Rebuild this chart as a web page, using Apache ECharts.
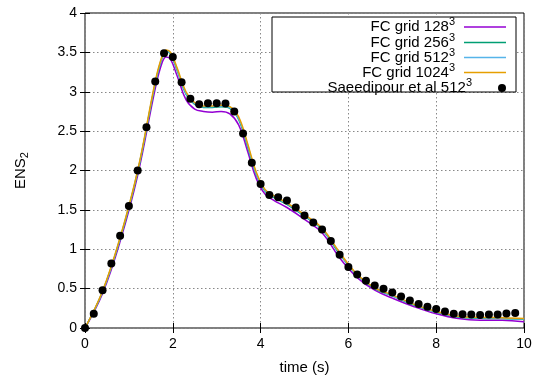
<!DOCTYPE html>
<html><head><meta charset="utf-8">
<script src="https://cdn.jsdelivr.net/npm/echarts@6/dist/echarts.min.js"></script>
<style>html,body{margin:0;padding:0;background:#fff}#c{width:539px;height:381px}</style>
</head><body><div id="c"></div>
<script>
// Reference data (Saeedipour et al 512^3)
const refTime = [0,0.2,0.4,0.6,0.8,1.0,1.2,1.4,1.6,1.8,2.0,2.2,2.4,2.6,2.8,3.0,3.2,3.4,3.6,3.8,4.0,4.2,4.4,4.6,4.8,5.0,5.2,5.4,5.6,5.8,6.0,6.2,6.4,6.6,6.8,7.0,7.2,7.4,7.6,7.8,8.0,8.2,8.4,8.6,8.8,9.0,9.2,9.4,9.6,9.8];
const refValues = [0,0.18,0.48,0.82,1.17,1.55,2.0,2.55,3.13,3.49,3.44,3.12,2.91,2.84,2.855,2.855,2.85,2.75,2.47,2.1,1.83,1.69,1.66,1.62,1.53,1.43,1.34,1.25,1.105,0.93,0.775,0.68,0.60,0.54,0.50,0.45,0.40,0.35,0.305,0.27,0.24,0.21,0.18,0.175,0.17,0.165,0.17,0.17,0.185,0.19];

// FC grid simulations
const fcTime = [0,0.4,0.8,1.2,1.6,1.75,1.85,1.95,2.1,2.3,2.5,2.7,2.9,3.1,3.3,3.5,3.7,3.9,4.1,4.3,4.6,5.0,5.4,5.8,6.2,6.6,7.0,7.5,8.0,8.5,9.0,9.5,10];
const fc128  = [0,0.44,1.10,1.94,3.04,3.36,3.44,3.41,3.20,2.90,2.78,2.75,2.74,2.75,2.72,2.58,2.25,1.90,1.70,1.62,1.53,1.38,1.21,0.89,0.64,0.48,0.38,0.27,0.18,0.12,0.10,0.10,0.08];
const fc256  = [0,0.46,1.13,1.98,3.10,3.42,3.51,3.48,3.27,2.97,2.84,2.80,2.80,2.81,2.79,2.65,2.31,1.95,1.74,1.66,1.57,1.42,1.25,0.94,0.67,0.50,0.41,0.29,0.20,0.14,0.125,0.12,0.11];
const fc512  = [0,0.46,1.14,1.99,3.11,3.43,3.51,3.49,3.28,2.98,2.85,2.81,2.81,2.82,2.80,2.66,2.33,1.96,1.75,1.67,1.58,1.43,1.26,0.95,0.67,0.51,0.41,0.30,0.205,0.145,0.13,0.125,0.115];
const fc1024 = [0,0.47,1.15,2.0,3.13,3.44,3.53,3.50,3.30,3.00,2.86,2.82,2.82,2.83,2.81,2.68,2.35,1.98,1.76,1.68,1.59,1.44,1.27,0.96,0.68,0.51,0.42,0.30,0.21,0.15,0.135,0.13,0.12];

const seriesNames = ['FC grid 128³','FC grid 256³','FC grid 512³','FC grid 1024³','Saeedipour et al 512³'];
const lineValues = [fc128, fc256, fc512, fc1024];
const colors = ['#9400d3','#009e73','#56b4e9','#e69f00','#000000'];

const FONT = 'Liberation Sans';
const chart = echarts.init(document.getElementById('c'), null, {renderer:'canvas'});

const series = lineValues.map((vals, k) => ({
  name: seriesNames[k], type: 'line', xAxisIndex: 0, yAxisIndex: 0,
  data: fcTime.map((t, i) => [t, vals[i]]),
  smooth: 0.4, showSymbol: false, symbol: 'none',
  lineStyle: {color: colors[k], width: 1.5}, itemStyle: {color: colors[k]},
  z: 2 + k, animation: false
}));
series.push({
  name: seriesNames[4], type: 'scatter', xAxisIndex: 0, yAxisIndex: 0,
  data: refTime.map((t, i) => [t, refValues[i]]),
  symbol: 'circle', symbolSize: 8, itemStyle: {color: '#000', opacity: 1}, z: 10, animation: false
});

const legendCenters = [25, 40.5, 55.5, 70.5, 86];
const legends = seriesNames.map((n, k) => ({
  show: true, data: [n], orient: 'vertical', right: 33, top: legendCenters[k] - 8.5,
  padding: 0, align: 'right', selectedMode: false, z: 20,
  itemWidth: 42, itemHeight: k < 4 ? 1.5 : 8,
  icon: k < 4 ? 'rect' : 'circle',
  itemStyle: {opacity: 1},
  formatter: name => '{m|' + name.replace('³','') + '}{s|3}',
  textStyle: {
    color: '#000', fontFamily: FONT, fontSize: 15,
    rich: {
      m: {fontFamily: FONT, fontSize: 15, color: '#000'},
      s: {fontFamily: FONT, fontSize: 11, color: '#000', padding: [0, 4, 10, 0]}
    }
  }
}));

const axisCommonX = {type: 'value', min: 0, max: 10, interval: 2};
const axisCommonY = {type: 'value', min: 0, max: 4, interval: 0.5};
const tickStyle = {show: true, inside: true, length: 5, lineStyle: {color: '#000', width: 1}};

chart.setOption({
  animation: false,
  backgroundColor: '#fff',
  grid: {left: 85, right: 15, top: 13, bottom: 53, show: true, borderColor: '#000', borderWidth: 1},
  xAxis: [
    Object.assign({}, axisCommonX, {
      position: 'bottom',
      axisLine: {show: false}, axisTick: tickStyle,
      axisLabel: {color: '#000', fontFamily: FONT, fontSize: 14, margin: 9},
      splitLine: {show: true, lineStyle: {color: '#888', type: [1.5, 2.5], width: 1}},
      name: 'time (s)', nameLocation: 'middle', nameGap: 32,
      nameTextStyle: {color: '#000', fontFamily: FONT, fontSize: 15}
    }),
    Object.assign({}, axisCommonX, {
      position: 'top', axisLine: {show: false}, axisTick: tickStyle,
      axisLabel: {show: false}, splitLine: {show: false}
    })
  ],
  yAxis: [
    Object.assign({}, axisCommonY, {
      position: 'left',
      axisLine: {show: false}, axisTick: tickStyle,
      axisLabel: {color: '#000', fontFamily: FONT, fontSize: 14, margin: 8},
      splitLine: {show: true, lineStyle: {color: '#888', type: [1.5, 2.5], width: 1}},
      name: '{a|ENS}{b|2}', nameLocation: 'middle', nameGap: 55, nameRotate: 90,
      nameTextStyle: {color: '#000', fontFamily: FONT, fontSize: 15,
        rich: {a: {fontFamily: FONT, fontSize: 15, color: '#000'},
               b: {fontFamily: FONT, fontSize: 11, color: '#000', padding: [7, 0, 0, 0]}}}
    }),
    Object.assign({}, axisCommonY, {
      position: 'right', axisLine: {show: false}, axisTick: tickStyle,
      axisLabel: {show: false}, splitLine: {show: false}
    })
  ],
  legend: legends,
  graphic: [{
    type: 'rect', shape: {x: 272, y: 17, width: 244, height: 75},
    style: {fill: '#fff', stroke: '#000', lineWidth: 1}, z: 1, zlevel: 0
  }],
  series: series
});
</script></body></html>
